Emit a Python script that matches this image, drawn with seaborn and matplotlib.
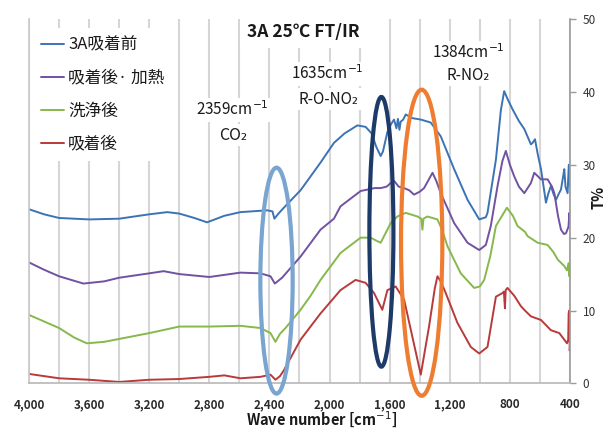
import matplotlib
matplotlib.use("Agg")
import numpy as np
import pandas as pd
import seaborn as sns
import matplotlib.pyplot as plt
from matplotlib.patches import Ellipse
from matplotlib.lines import Line2D

# ---- spectra (wavenumber in cm-1, transmittance in %) ----
series_names = ["3A吸着前", "吸着後· 加熱", "洗浄後", "吸着後"]
series_colors = ["#3C73B5", "#7151A1", "#86B84B", "#B83A3A"]

wn_before = [4000, 3900, 3800, 3600, 3400, 3200, 3080, 3000, 2900, 2815, 2700, 2593,
             2415, 2380, 2367, 2340, 2300, 2193, 2060, 1971, 1900, 1815, 1760, 1720,
             1690, 1660, 1645, 1615, 1590, 1571, 1555, 1545, 1535, 1527, 1510, 1493,
             1450, 1393, 1327, 1260, 1171, 1082, 1004, 960, 949, 893, 860, 838, 815,
             782, 740, 704, 660, 649, 633, 615, 593, 560, 545, 527, 510, 493, 475, 460,
             445, 438, 430, 416, 408, 400]
t_before = [23.9, 23.2, 22.7, 22.5, 22.6, 23.2, 23.5, 23.3, 22.7, 22.1, 23.0, 23.5,
            23.75, 23.6, 22.6, 23.3, 24.2, 26.5, 30.3, 33.0, 34.3, 35.4, 35.2, 34.3,
            32.5, 31.2, 31.8, 34.5, 35.6, 36.2, 35.0, 36.3, 34.8, 35.9, 36.2, 36.9,
            36.4, 36.2, 35.8, 33.9, 29.4, 25.2, 22.5, 22.8, 23.4, 30.7, 37.5, 40.1, 39.0,
            37.6, 36.0, 34.9, 32.8, 33.0, 33.5, 31.5, 29.4, 24.8, 26.0, 27.1, 26.0, 25.2,
            26.0, 26.6, 28.5, 29.4, 27.0, 26.1, 30.0, 27.0]

wn_heated = [4000, 3900, 3800, 3638, 3500, 3400, 3200, 3104, 3000, 2800, 2593, 2460,
             2393, 2364, 2316, 2193, 2060, 1971, 1927, 1793, 1700, 1660, 1620, 1593,
             1571, 1540, 1504, 1470, 1438, 1400, 1371, 1315, 1290, 1260, 1171, 1082,
             1004, 960, 927, 882, 850, 827, 800, 771, 740, 704, 660, 638, 593, 549, 520,
             504, 480, 460, 440, 427, 410, 404, 400]
t_heated = [16.6, 15.6, 14.7, 13.7, 14.0, 14.5, 15.1, 15.4, 15.0, 14.6, 15.2, 15.1,
            14.7, 13.7, 14.5, 17.4, 21.1, 22.6, 24.3, 26.4, 26.8, 26.8, 27.0, 27.5,
            27.8, 27.0, 26.8, 26.5, 25.9, 26.3, 26.8, 28.9, 27.8, 26.1, 22.0, 19.3,
            18.3, 19.0, 21.6, 27.1, 30.5, 31.9, 30.0, 28.4, 27.0, 26.1, 27.5, 28.9, 28.0,
            28.0, 27.0, 26.1, 23.0, 21.1, 20.5, 20.6, 21.5, 23.4, 22.0]

wn_washed = [4000, 3900, 3800, 3700, 3615, 3500, 3400, 3200, 3000, 2800, 2593, 2460,
             2393, 2360, 2330, 2293, 2193, 2127, 2060, 1927, 1793, 1727, 1690, 1660,
             1630, 1593, 1549, 1493, 1415, 1390, 1382, 1375, 1349, 1282, 1250, 1215,
             1127, 1038, 1000, 971, 930, 893, 820, 780, 749, 700, 682, 615, 549, 510,
             482, 438, 420, 410, 404, 400]
t_washed = [9.4, 8.5, 7.6, 6.3, 5.5, 5.7, 6.1, 6.9, 7.8, 7.8, 7.9, 7.6,
            6.9, 5.7, 6.8, 7.6, 10.1, 12.0, 14.2, 17.9, 20.0, 20.0, 19.6, 19.3,
            20.5, 22.0, 22.9, 23.4, 22.9, 22.6, 21.1, 22.6, 22.9, 22.5, 21.0, 18.8,
            15.1, 13.1, 13.3, 14.2, 17.5, 21.6, 24.1, 23.0, 21.6, 20.8, 20.2, 19.3, 19.0,
            18.0, 17.0, 16.1, 15.5, 16.5, 14.7, 15.5]

wn_adsorbed = [4000, 3900, 3800, 3600, 3400, 3200, 3000, 2800, 2700, 2593, 2460, 2393,
               2360, 2330, 2304, 2193, 2060, 1927, 1827, 1760, 1704, 1649, 1615, 1560,
               1504, 1449, 1393, 1338, 1300, 1282, 1260, 1227, 1149, 1060, 1004, 949,
               893, 849, 840, 833, 828, 816, 770, 727, 700, 660, 593, 560, 527, 471, 438,
               420, 412, 409, 404, 402, 400]
t_adsorbed = [1.3, 1.0, 0.7, 0.5, 0.2, 0.5, 0.6, 0.9, 1.1, 0.7, 0.9, 1.2,
              0.5, 1.0, 1.8, 6.0, 9.6, 12.8, 14.2, 13.8, 12.4, 10.1, 12.8, 13.3,
              11.5, 6.4, 1.2, 7.8, 13.0, 14.7, 14.0, 12.4, 8.3, 5.0, 4.1, 5.0,
              11.9, 12.4, 12.6, 10.3, 12.8, 13.1, 12.0, 10.6, 10.0, 9.2, 8.7, 8.0, 7.3,
              6.9, 6.0, 5.5, 6.0, 9.6, 10.0, 4.5, 5.0]

x_ticks = [4000, 3600, 3200, 2800, 2400, 2000, 1600, 1200, 800, 400]
x_tick_labels = ["4,000", "3,600", "3,200", "2,800", "2,400", "2,000", "1,600",
                 "1,200", "800", "400"]
y_ticks = [0, 10, 20, 30, 40, 50]

# highlighted bands: (centre wavenumber, centre T, width cm-1, height T, colour)
band_centres = [2353, 1655, 1387]
band_levels = [14.1, 20.8, 19.3]
band_widths = [215, 160, 275]
band_heights = [31.0, 37.0, 42.0]
band_colors = ["#7AA5D0", "#1E3A68", "#EE7D31"]

# ---- tidy table for seaborn ----
frames = []
for name, wn, t in zip(series_names,
                       [wn_before, wn_heated, wn_washed, wn_adsorbed],
                       [t_before, t_heated, t_washed, t_adsorbed]):
    frames.append(pd.DataFrame({"wavenumber": wn, "T": t, "sample": name}))
spectra = pd.concat(frames, ignore_index=True)

sns.set_style("white")
plt.rcParams["font.family"] = ["Noto Sans CJK JP", "DejaVu Sans"]

W, H = 606, 432
fig = plt.figure(figsize=(W / 100, H / 100), dpi=100)
fx = lambda px: px / W
fy = lambda py: 1 - py / H

left, right, top, bottom = 29, 570, 19, 383.4
ax = fig.add_axes([fx(left), fy(bottom), (right - left) / W, (bottom - top) / H])

sns.lineplot(data=spectra, x="wavenumber", y="T", hue="sample",
             hue_order=series_names, palette=series_colors, estimator=None,
             sort=False, linewidth=1.4, legend=False, ax=ax)

ax.set_xlim(4000, 400)
ax.set_ylim(0, 50)
ax.set_xticks(x_ticks)
ax.set_xticklabels(x_tick_labels)
ax.set_xticks(np.arange(400, 4001, 200), minor=True)
ax.set_yticks(y_ticks)
ax.grid(axis="x", which="both", color="#d6d6d6", linewidth=1.5)
ax.grid(axis="y", visible=False)
ax.set_axisbelow(True)

ax.yaxis.tick_right()
ax.yaxis.set_label_position("right")
ax.spines["top"].set_visible(False)
ax.spines["left"].set_color("#c8c8c8")
ax.spines["bottom"].set_color("#b8b8b8")
ax.spines["right"].set_color("#9a9a9a")
for s in ["left", "bottom", "right"]:
    ax.spines[s].set_linewidth(1.2)

ax.tick_params(axis="x", which="both", length=0, pad=10.5, labelsize=8.5,
               labelcolor="#2a2a2a")
for lbl in ax.get_xticklabels():
    lbl.set_fontweight("bold")
ax.tick_params(axis="y", which="major", direction="out", length=4, width=1,
               color="#9a9a9a", pad=5, labelsize=8.5, labelcolor="#333333",
               right=True, left=False)

ax.set_xlabel("Wave number [cm$^{-1}$]", fontsize=10.5, fontweight="bold",
              color="#1a1a1a", va="center")
ax.xaxis.set_label_coords((322 - left) / (right - left), -(420 - bottom) / (bottom - top))
ax.set_ylabel("T%", fontsize=10.5, fontweight="bold", rotation=90,
              color="#1a1a1a", va="center", ha="center")
ax.yaxis.set_label_coords((599 - left) / (right - left), (bottom - 197) / (bottom - top))

# marked absorption bands
for c, lvl, w, h, col in zip(band_centres, band_levels, band_widths, band_heights,
                             band_colors):
    ax.add_patch(Ellipse((c, lvl), w, h, facecolor="none", edgecolor=col,
                         linewidth=3.0, clip_on=False, zorder=6))

# legend
handles = [Line2D([], [], color=c, linewidth=1.4) for c in series_colors]
leg = ax.legend(handles, series_names, loc="upper left",
                bbox_to_anchor=(fx(33), fy(28)), bbox_transform=fig.transFigure,
                frameon=True, facecolor="white", edgecolor="none", framealpha=1,
                fancybox=False, handlelength=1.35, handletextpad=0.25,
                labelspacing=0.97, fontsize=12, borderaxespad=0, borderpad=0.5)
for t in leg.get_texts():
    t.set_color("#1a1a1a")

box = dict(facecolor="white", edgecolor="none", pad=2)
txt = dict(ha="center", va="center", color="#1a1a1a", zorder=4)

fig.text(fx(303), fy(32), "3A 25℃ FT/IR", fontsize=12.5, fontweight="bold",
         bbox=dict(facecolor="white", edgecolor="none", pad=5), **txt)

fig.text(fx(232), fy(110), "2359cm$^{-1}$", fontsize=11, bbox=box, **txt)
fig.text(fx(233), fy(135), "CO₂", fontsize=11.5, bbox=box, **txt)
fig.text(fx(327), fy(74), "1635cm$^{-1}$", fontsize=11, bbox=box, **txt)
fig.text(fx(329), fy(99), "R-O-NO₂", fontsize=11, bbox=box, **txt)
fig.text(fx(468), fy(53), "1384cm$^{-1}$", fontsize=11, bbox=box, **txt)
fig.text(fx(468), fy(75), "R-NO₂", fontsize=11, bbox=box, **txt)

fig.savefig("out.png", dpi=100, facecolor="white")
